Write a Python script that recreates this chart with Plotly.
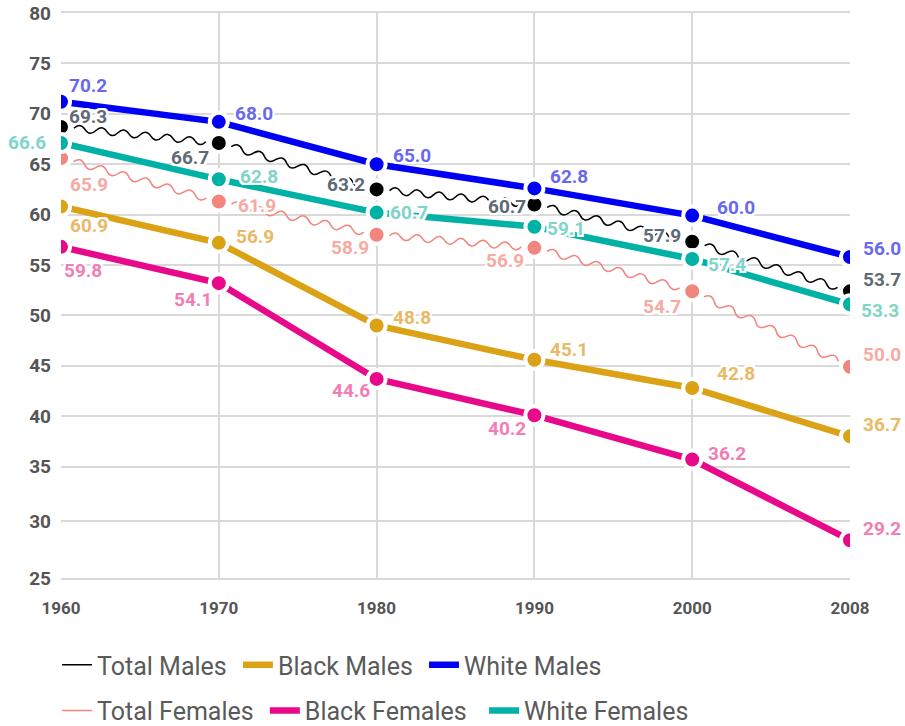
import math
import plotly.graph_objects as go

# ---------------- data ----------------
years = ["1960", "1970", "1980", "1990", "2000", "2008"]

total_males = [68.7, 67.1, 62.5, 61.0, 57.3, 52.4]
black_males = [60.8, 57.2, 49.0, 45.6, 42.8, 38.0]
white_males = [71.2, 69.2, 65.0, 62.6, 59.9, 55.8]
total_females = [65.6, 61.3, 58.0, 56.7, 52.4, 44.9]
black_females = [56.8, 53.2, 43.7, 40.1, 35.7, 27.7]
white_females = [67.1, 63.5, 60.2, 58.8, 55.6, 51.1]

total_males_labels = ["69.3", "66.7", "63.2", "60.7", "57.9", "53.7"]
black_males_labels = ["60.9", "56.9", "48.8", "45.1", "42.8", "36.7"]
white_males_labels = ["70.2", "68.0", "65.0", "62.8", "60.0", "56.0"]
total_females_labels = ["65.9", "61.9", "58.9", "56.9", "54.7", "50.0"]
black_females_labels = ["59.8", "54.1", "44.6", "40.2", "36.2", "29.2"]
white_females_labels = ["66.6", "62.8", "60.7", "59.1", "57.4", "53.3"]

y_tick_labels = ["80", "75", "70", "65", "60", "55", "50", "45", "40", "35", "30", "25"]
y_tick_values = [80, 75, 70, 65, 60, 55, 50, 45, 40, 35, 29.6, 23.95]

# ---------------- layout constants ----------------
W, H = 905, 726
ML, MR, MT, MB = 61, 55, 13, 148
Y_MIN, Y_MAX = 23.95, 80
x_idx = list(range(len(years)))
SX = (W - ML - MR) / (len(years) - 1)          # px per category step
SY = (H - MT - MB) / (Y_MAX - Y_MIN)           # px per y unit

FONT = "Roboto, 'Liberation Sans', Arial, sans-serif"
HALO = ("-2px -2px 0 #fff, 2px -2px 0 #fff, -2px 2px 0 #fff, 2px 2px 0 #fff, "
        "0 -2px 0 #fff, 0 2px 0 #fff, -2px 0 0 #fff, 2px 0 0 #fff")
NB = "\u00a0"

series = [
    # name, values, labels, line color, label color, wavy, legend, legend padding, label offsets (dx, dy down)
    ("Total Males", total_males, total_males_labels, "#000000", "#5e6a74", True, "legend", 1,
     [(27, -10), (-29, 14), (-31, -5), (-27, 2), (-30, -6), (32, -12)]),
    ("Black Males", black_males, black_males_labels, "#dca216", "#e9b966", False, "legend", 1,
     [(28, 19), (36, -6), (35, -8), (35, -10), (44, -14), (32, -12)]),
    ("White Males", white_males, white_males_labels, "#0000f5", "#6868f2", False, "legend", 0,
     [(27, -16), (35, -8), (35, -9), (35, -12), (44, -8), (32, -8)]),
    ("Total Females", total_females, total_females_labels, "#f2867e", "#f7aaa1", True, "legend2", 1,
     [(28, 26), (38, 4), (-27, 13), (-29, 13), (-30, 15), (32, -12)]),
    ("Black Females", black_females, black_females_labels, "#e8088a", "#f27db4", False, "legend2", 2,
     [(22, 24), (-26, 16), (-26, 12), (-27, 13), (35, -6), (32, -12)]),
    ("White Females", white_females, white_females_labels, "#00b2a6", "#80d4c9", False, "legend2", 0,
     [(-34, -1), (40, -3), (32, 0), (32, 2), (35, 6), (30, 6)]),
]


def wavy_path(xs, ys, gap=13.0, half=11.5, amp=3.4):
    """Wavy line style between consecutive data points (drawn in pixel-scaled space)."""
    parts = []
    for i in range(len(xs) - 1):
        X0, Y0 = xs[i] * SX, ys[i] * SY
        X1, Y1 = xs[i + 1] * SX, ys[i + 1] * SY
        dx, dy = X1 - X0, Y1 - Y0
        L = math.hypot(dx, dy)
        ux, uy = dx / L, dy / L
        nx, ny = -uy, ux
        sx0, sy0 = X0 + ux * gap, Y0 + uy * gap
        length = L - 2 * gap
        n = max(2, round(length / half))
        h = length / n

        def pt(k):
            return sx0 + ux * h * k, sy0 + uy * h * k

        def fmt(X, Y):
            return f"{X / SX:.5f},{Y / SY:.5f}"

        cx = sx0 + ux * h / 2 + nx * 2 * amp
        cy = sy0 + uy * h / 2 + ny * 2 * amp
        seg = f"M{fmt(*pt(0))} Q{fmt(cx, cy)} {fmt(*pt(1))}"
        for k in range(2, n + 1):
            seg += f" T{fmt(*pt(k))}"
        parts.append(seg)
    return " ".join(parts)


fig = go.Figure()
shapes = []
annotations = []

for name, vals, labels, color, lcolor, wavy, leg, pad, offs in series:
    if wavy:
        shapes.append(dict(type="path", path=wavy_path(x_idx, vals), xref="x", yref="y",
                           line=dict(color=color, width=1.5), layer="between"))
        fig.add_trace(go.Scatter(x=x_idx, y=vals, mode="markers", name=name, showlegend=False,
                                 marker=dict(size=18, color=color, line=dict(color="white", width=4)),
                                 hoverinfo="skip"))
    else:
        fig.add_trace(go.Scatter(x=x_idx, y=vals, mode="lines+markers", name=name, showlegend=False,
                                 line=dict(color=color, width=6.5),
                                 marker=dict(size=18, color=color, line=dict(color="white", width=4))))
    for xi, v, t, (dx, dy) in zip(x_idx, vals, labels, offs):
        annotations.append(dict(x=xi, y=v, text=t, showarrow=False, xshift=dx, yshift=-dy,
                                font=dict(family=FONT, size=19, color=lcolor, weight="bold",
                                          shadow=HALO)))

# legend-only entries (line icons)
for name, vals, labels, color, lcolor, wavy, leg, pad, offs in series:
    fig.add_trace(go.Scatter(x=[None], y=[None], mode="lines", name=name + NB * pad, legend=leg,
                             line=dict(color=color, width=1.5 if wavy else 6.5)))

fig.update_layout(
    width=W, height=H,
    margin=dict(l=ML, r=MR, t=MT, b=MB, autoexpand=False),
    paper_bgcolor="white", plot_bgcolor="white",
    shapes=shapes, annotations=annotations,
    xaxis=dict(range=[0, len(years) - 1], tickvals=x_idx, ticktext=years,
               showgrid=True, gridcolor="#d9d9d9", gridwidth=1.5, zeroline=False,
               showline=True, linecolor="#d9d9d9", linewidth=1.5, mirror=True,
               tickfont=dict(family=FONT, size=17, color="#555555", weight="bold"),
               ticks="", ticklabelstandoff=14, automargin=False, ticklabeloverflow="allow"),
    yaxis=dict(range=[Y_MIN, Y_MAX], tickvals=y_tick_values, ticktext=y_tick_labels,
               showgrid=True, gridcolor="#d9d9d9", gridwidth=1.5, zeroline=False,
               showline=False,
               tickfont=dict(family=FONT, size=19, color="#555555", weight="bold"),
               ticks="", ticklabelstandoff=9, automargin=False, ticklabeloverflow="allow"),
    legend=dict(orientation="h", x=-0.005, xanchor="left", y=-0.154, yanchor="middle",
                font=dict(family=FONT, size=25, color="#5a5a5a"), itemwidth=30,
                bgcolor="rgba(0,0,0,0)"),
    legend2=dict(orientation="h", x=-0.005, xanchor="left", y=-0.235, yanchor="middle",
                 font=dict(family=FONT, size=25, color="#5a5a5a"), itemwidth=30,
                 bgcolor="rgba(0,0,0,0)"),
    showlegend=True,
)

fig.write_html("out.html", config={"displayModeBar": False},
               post_script="document.body.style.margin='0';document.body.style.overflow='hidden';")
